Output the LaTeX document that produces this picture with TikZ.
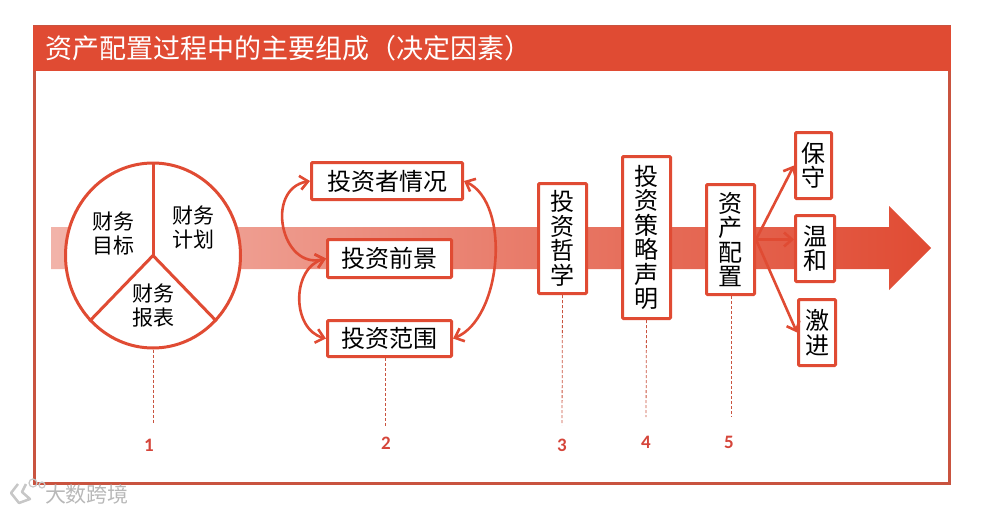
\documentclass[tikz,border=0pt]{standalone}
\usepackage{fontspec}
\setmainfont{Noto Sans CJK SC}
\newfontfamily\numfont{Carlito}
\usetikzlibrary{arrows.meta, shapes, positioning, calc}
\definecolor{accent}{HTML}{E04B33}
\definecolor{framered}{HTML}{C9533F}
\definecolor{numred}{HTML}{D5453A}

\begin{document}
\begin{tikzpicture}[
        x=1pt, y=-1pt,
        font=\fontsize{24}{24.5}\selectfont,
        block/.style={
          draw=accent,
          fill=white,
          line width=3pt,
          rounded corners=1pt,
          align=center,
          inner sep=0pt
        },
        sector/.style={align=center, font=\fontsize{21}{24}\selectfont},
        flow/.style={-{Straight Barb[length=8pt,width=14pt]}, line width=2.6pt, draw=accent},
        both/.style={flow, {Straight Barb[length=8pt,width=14pt]}-{Straight Barb[length=8pt,width=14pt]}},
        guide/.style={draw=framered, densely dashed, line width=0.8pt},
        num/.style={text=numred, font=\numfont\bfseries\fontsize{19}{19}\selectfont}
      ]
      \useasboundingbox (0,0) rectangle (983,511);

      % frame and title
      \draw[framered, line width=3pt] (34,27) rectangle (949,483);
      \node[fill=accent, anchor=north west, text=white, text width=894pt, inner xsep=12pt, inner ysep=0pt,
        minimum height=45pt, font=\fontsize{27}{27}\selectfont] (title) at (33,26) {资产配置过程中的主要组成（决定因素）};

      % big arrow
      \shade[left color=accent!42, right color=accent]
        (51,227) -- (889,227) -- (889,206) -- (931,248) -- (889,290) -- (889,269) -- (51,269) -- cycle;

      % pie
      \node[ellipse, draw=accent, fill=white, line width=3pt, inner sep=0pt, minimum width=175pt, minimum height=185pt] (pie) at (153,255.5) {};
      \draw[accent, line width=3pt] (pie.center) -- (pie.north);
      \draw[accent, line width=3pt] (pie.center) -- (pie.226);
      \draw[accent, line width=3pt] (pie.center) -- (pie.314);
      \node[sector] (goal) at (113,233) {财务\\目标};
      \node[sector] (plan) at (193,228) {财务\\计划};
      \node[sector] (report) at (153,306) {财务\\报表};

      % second group
      \node[block, minimum width=151pt, minimum height=37pt] (investor) at (387,181) {投资者情况};
      \node[block, minimum width=124pt, minimum height=38pt, below=37pt of investor, xshift=2.5pt] (outlook) {投资前景};
      \node[block, minimum width=124pt, minimum height=36pt, below=40pt of outlook] (scope) {投资范围};

      \draw[both] (outlook.west) to[out=195, in=190, looseness=1.5] (investor.west);
      \draw[both] (outlook.west) to[out=195, in=165, looseness=1.15] (scope.west);
      \draw[both] (investor.east) to[out=-25, in=22, looseness=0.85] (scope.east);

      % steps
      \node[block, minimum width=48pt, minimum height=110pt] (philosophy) at (562.5,238.5) {投\\资\\哲\\学};
      \node[block, minimum width=48pt, minimum height=162pt, right=33pt of philosophy, yshift=1pt] (policy) {投\\资\\策\\略\\声\\明};
      \node[block, minimum width=48pt, minimum height=110pt, right=33pt of policy, yshift=-2pt] (allocation) {资\\产\\配\\置};

      \node[block, minimum width=36pt, minimum height=66pt] (conservative) at (813.5,165.5) {保\\守};
      \node[block, minimum width=39pt, minimum height=66pt, below=14pt of conservative, xshift=1.5pt] (moderate) {温\\和};
      \node[block, minimum width=37pt, minimum height=66pt, below=15pt of moderate, xshift=2pt] (aggressive) {激\\进};

      \draw[flow] (allocation.east) -- (conservative.west);
      \draw[flow] (allocation.east) -- (allocation.east -| moderate.west);
      \draw[flow] (allocation.east) -- (aggressive.west);

      % numbers
      \node[num] (n1) at (149,445) {1};
      \node[num] (n2) at (386,443) {2};
      \node[num] (n3) at (562,445) {3};
      \node[num] (n4) at (646,442) {4};
      \node[num] (n5) at (729,442) {5};

      \coordinate (g1) at (153,424);
      \coordinate (g2) at (385,427);
      \coordinate (g3) at (562,425);
      \coordinate (g4) at (646,417);
      \coordinate (g5) at (731,417);
      \draw[guide] (pie.south) -- (g1);
      \draw[guide] (scope.south -| g2) -- (g2);
      \draw[guide] (philosophy.south) -- (g3);
      \draw[guide] (policy.south) -- (g4);
      \draw[guide] (allocation.south -| g5) -- (g5);

      % watermark
      \draw[black!22, line width=2.5pt, line join=round] (18,484) -- (11,493) -- (19,503) -- (30,499) -- (22,492) -- (26,484);
      \draw[black!22, line width=1.2pt] (33,483) circle (4pt) (42,485) circle (3pt);
      \node[text=black!28, font=\fontsize{21}{21}\selectfont, inner sep=0pt] (mark) at (87,494) {大数跨境};
    \end{tikzpicture}
\end{document}
